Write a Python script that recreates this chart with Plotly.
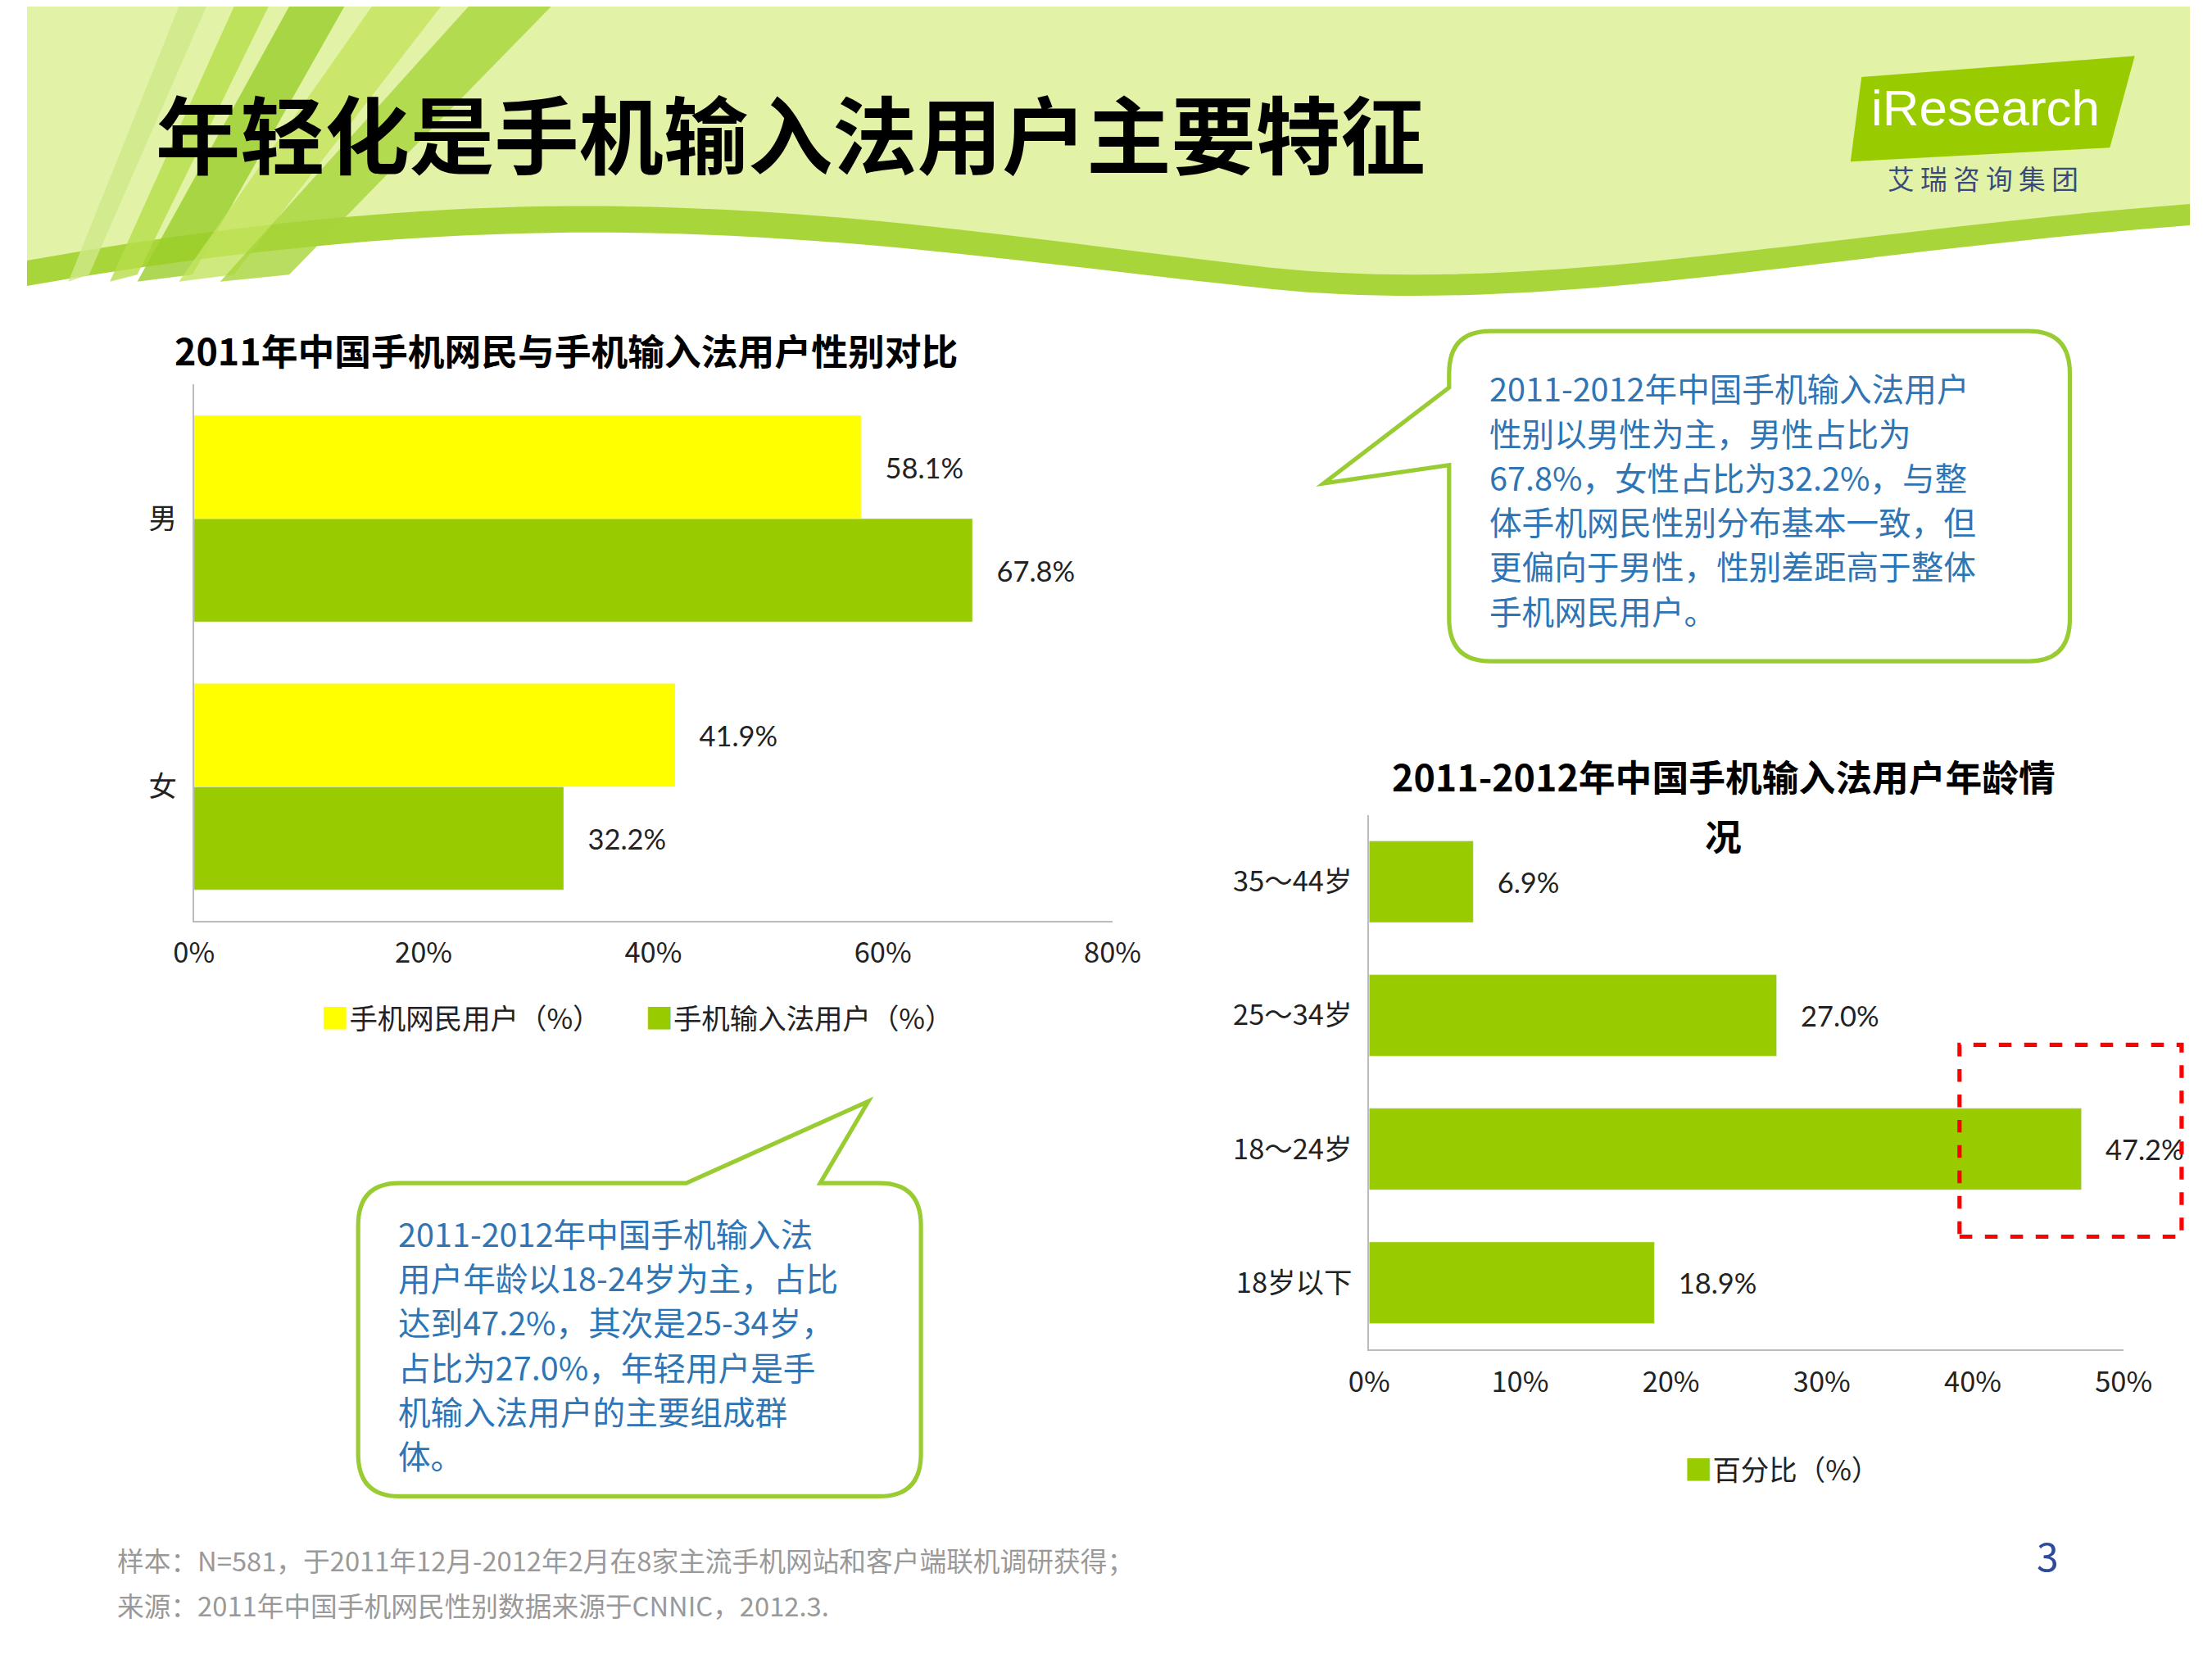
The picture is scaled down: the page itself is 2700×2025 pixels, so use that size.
import plotly.graph_objects as go

# ---- data ----
gender_cats = ["女", "男"]
netizen_pct = [41.9, 58.1]
ime_pct = [32.2, 67.8]
gender_ticks = [0, 20, 40, 60, 80]

age_cats = ["18岁以下", "18～24岁", "25～34岁", "35～44岁"]
age_pct = [18.9, 47.2, 27.0, 6.9]
age_ticks = [0, 10, 20, 30, 40, 50]

W, H = 1568.0, 1176.0
S = 2700 / W
FONT = "Noto Sans CJK SC"
YEL, GRN = "#FFFF00", "#99CC00"
BLUE = "#2E75B6"

def px(x): return x / W
def py(y): return 1 - y / H
def P(x, y): return f"{px(x):.4f},{py(y):.4f}"

lbl = dict(size=20*S, color="#222", family="Lato")
fig = go.Figure()
# green first so that within each group yellow sits above green
fig.add_trace(go.Bar(y=gender_cats, x=ime_pct, orientation="h", marker_color=GRN,
                     name="手机输入法用户（%）", text=[f"   {v:.1f}%" for v in ime_pct],
                     textposition="outside", cliponaxis=False, textfont=lbl,
                     xaxis="x", yaxis="y"))
fig.add_trace(go.Bar(y=gender_cats, x=netizen_pct, orientation="h", marker_color=YEL,
                     name="手机网民用户（%）", text=[f"   {v:.1f}%" for v in netizen_pct],
                     textposition="outside", cliponaxis=False, textfont=lbl,
                     xaxis="x", yaxis="y"))
fig.add_trace(go.Bar(y=age_cats, x=age_pct, orientation="h", marker_color=GRN,
                     name="百分比（%）", text=[f"   {v:.1f}%" for v in age_pct],
                     textposition="outside", cliponaxis=False, width=0.61, textfont=lbl,
                     xaxis="x2", yaxis="y2"))

shapes = []
shapes.append(dict(type="path", xref="paper", yref="paper", layer="below", line_width=0,
    fillcolor="#E2F2A6",
    path=f"M {P(0,0)} L {P(1568,0)} L {P(1568,150)} C {P(1300,170)} {P(1100,215)} {P(900,195)} "
         f"C {P(600,160)} {P(400,120)} {P(0,195)} Z"))
shapes.append(dict(type="path", xref="paper", yref="paper", layer="below", line_width=0,
    fillcolor="#A8D63A",
    path=f"M {P(0,180)} C {P(400,110)} {P(600,150)} {P(900,185)} C {P(1100,205)} {P(1300,160)} {P(1568,140)} "
         f"L {P(1568,155)} C {P(1300,175)} {P(1100,220)} {P(900,200)} C {P(600,168)} {P(400,130)} {P(0,198)} Z"))
for (x0, x1, b0, b1, c) in [(150, 175, 60, 80, "#B7DD4A"), (190, 230, 80, 120, "#9ACD2A"),
                            (250, 300, 110, 150, "#C4E45E"), (320, 380, 140, 190, "#A6D53A"),
                            (110, 130, 30, 45, "#CFE98A")]:
    shapes.append(dict(type="path", xref="paper", yref="paper", layer="below", line_width=0,
        fillcolor=c, opacity=0.8,
        path=f"M {P(x0,0)} L {P(x1,0)} L {P(b1,190)} L {P(b0,195)} Z"))
shapes.append(dict(type="path", xref="paper", yref="paper", line_width=0, fillcolor="#99CC00",
    path=f"M {P(1330,50)} L {P(1528,35)} L {P(1510,100)} L {P(1322,110)} Z"))

def bubble(x0, y0, x1, y1, tail):
    r = 30
    return (f"M {P(x0+r,y0)} " + tail.get("top", "") + f"L {P(x1-r,y0)} Q {P(x1,y0)} {P(x1,y0+r)} "
            f"L {P(x1,y1-r)} Q {P(x1,y1)} {P(x1-r,y1)} L {P(x0+r,y1)} Q {P(x0,y1)} {P(x0,y1-r)} "
            + tail.get("left", "") + f"L {P(x0,y0+r)} Q {P(x0,y0)} {P(x0+r,y0)} Z")

shapes.append(dict(type="path", xref="paper", yref="paper", line=dict(color="#99CC33", width=3*S),
    fillcolor="white",
    path=bubble(1031, 230, 1481, 464, {"left": f"L {P(1031,325)} L {P(940,338)} L {P(1031,270)} "})))
shapes.append(dict(type="path", xref="paper", yref="paper", line=dict(color="#99CC33", width=3*S),
    fillcolor="white",
    path=bubble(240, 834, 648, 1056, {"top": f"L {P(478,834)} L {P(610,776)} L {P(575,834)} "})))
shapes.append(dict(type="rect", xref="paper", yref="paper", x0=px(1401), x1=px(1562),
                   y0=py(872), y1=py(736), line=dict(color="#FF0000", width=3*S, dash="dash")))

ann = []
ann.append(dict(text="<b>年轻化是手机输入法用户主要特征</b>", x=px(92), y=py(88), xanchor="left",
                yanchor="middle", font=dict(size=60*S, color="black", family=FONT)))
ann.append(dict(text="iResearch", x=px(1420), y=py(72), xanchor="center", yanchor="middle",
                font=dict(size=36*S, color="white", family="Liberation Sans")))
ann.append(dict(text="艾 瑞 咨 询 集 团", x=px(1418), y=py(121), xanchor="center", yanchor="middle",
                font=dict(size=19*S, color="#3A4A7A", family=FONT)))
ann.append(dict(text="<b>2011年中国手机网民与手机输入法用户性别对比</b>", x=px(106), y=py(243), xanchor="left",
                yanchor="middle", font=dict(size=26*S, color="black", family=FONT)))
ann.append(dict(text="<b>2011-2012年中国手机输入法用户年龄情</b>", x=px(1230), y=py(545), xanchor="center",
                yanchor="middle", font=dict(size=26*S, color="black", family=FONT)))
ann.append(dict(text="<b>况</b>", x=px(1230), y=py(587), xanchor="center",
                yanchor="middle", font=dict(size=26*S, color="black", family=FONT)))
ann.append(dict(text="<span style='color:#FFFF00'>■</span>手机网民用户（%）       <span style='color:#99CC00'>■</span>手机输入法用户（%）",
                x=px(442), y=py(716), xanchor="center", yanchor="middle",
                font=dict(size=20*S, color="#222", family=FONT)))
ann.append(dict(text="<span style='color:#99CC00'>■</span>百分比（%）", x=px(1272), y=py(1036),
                xanchor="center", yanchor="middle", font=dict(size=20*S, color="#222", family=FONT)))
bub1 = ["2011-2012年中国手机输入法用户", "性别以男性为主，男性占比为", "67.8%，女性占比为32.2%，与整",
        "体手机网民性别分布基本一致，但", "更偏向于男性，性别差距高于整体", "手机网民用户。"]
for i, t in enumerate(bub1):
    ann.append(dict(text=t, x=px(1059), y=py(270 + 31.5*i), xanchor="left", yanchor="middle",
                    font=dict(size=23*S, color=BLUE, family=FONT)))
bub2 = ["2011-2012年中国手机输入法", "用户年龄以18-24岁为主，占比", "达到47.2%，其次是25-34岁，",
        "占比为27.0%，年轻用户是手", "机输入法用户的主要组成群", "体。"]
for i, t in enumerate(bub2):
    ann.append(dict(text=t, x=px(268), y=py(869 + 31.5*i), xanchor="left", yanchor="middle",
                    font=dict(size=23*S, color=BLUE, family=FONT)))
ann.append(dict(text="样本：N=581，于2011年12月-2012年2月在8家主流手机网站和客户端联机调研获得；",
                x=px(64), y=py(1101), xanchor="left", yanchor="middle",
                font=dict(size=19*S, color="#999999", family=FONT)))
ann.append(dict(text="来源：2011年中国手机网民性别数据来源于CNNIC，2012.3.",
                x=px(64), y=py(1133), xanchor="left", yanchor="middle",
                font=dict(size=19*S, color="#999999", family=FONT)))
ann.append(dict(text="3", x=px(1465), y=py(1097), xanchor="center", yanchor="middle",
                font=dict(size=28*S, color="#2E4A9A", family=FONT)))
for a in ann:
    a.update(xref="paper", yref="paper", showarrow=False)

axfont = dict(size=20*S, color="#222", family=FONT)
fig.update_layout(
    width=2700, height=2025, paper_bgcolor="white", plot_bgcolor="rgba(0,0,0,0)",
    margin=dict(l=0, r=0, t=0, b=0), showlegend=False, barmode="group", bargap=0.23, bargroupgap=0,
    font=dict(family=FONT),
    xaxis=dict(domain=[px(121), px(787)], range=[0, 80], tickvals=gender_ticks,
               ticktext=[f"{v}%" for v in gender_ticks], showgrid=False, zeroline=False,
               showline=True, linecolor="#BBBBBB", linewidth=2, tickfont=axfont, ticks="outside",
               ticklen=8, tickcolor="rgba(0,0,0,0)", anchor="y"),
    yaxis=dict(domain=[py(648), py(268)], showgrid=False, showline=True, linecolor="#BBBBBB",
               linewidth=2, tickfont=axfont, ticks="outside", ticklen=12, tickcolor="rgba(0,0,0,0)",
               anchor="x"),
    xaxis2=dict(domain=[px(973), px(1520)], range=[0, 50], tickvals=age_ticks,
                ticktext=[f"{v}%" for v in age_ticks], showgrid=False, zeroline=False,
                showline=True, linecolor="#BBBBBB", linewidth=2, tickfont=axfont, ticks="outside",
                ticklen=8, tickcolor="rgba(0,0,0,0)", anchor="y2"),
    yaxis2=dict(domain=[py(952), py(573)], showgrid=False, showline=True, linecolor="#BBBBBB",
                linewidth=2, tickfont=axfont, ticks="outside", ticklen=12,
                tickcolor="rgba(0,0,0,0)", anchor="x2"),
    shapes=shapes, annotations=ann,
)
fig.write_html("out.html")
